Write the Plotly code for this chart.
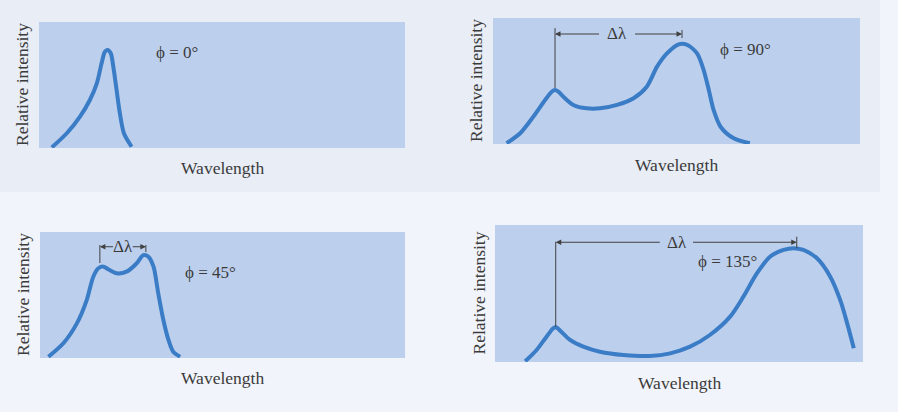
import plotly.graph_objects as go

W, H = 898, 412

# ---- data (arbitrary wavelength units 0-100, relative intensity 0-100) ----
wl_0 = [3.5, 7.6, 11.2, 13.9, 15.8, 17.1, 18.0, 18.7, 19.6, 20.3, 21.2, 22.1, 23.2, 25.3]
int_0 = [0.5, 11.7, 24.9, 38.1, 51.3, 67.2, 76.4, 77.8, 75.2, 64.6, 46.0, 27.5, 11.7, 1.0]

wl_90 = [3.7, 7.4, 11.0, 14.2, 16.0, 16.9, 17.8, 19.6, 21.9, 25.5, 29.2, 33.8, 38.3, 41.9,
         44.7, 47.4, 50.6, 52.9, 55.6, 57.4, 58.8, 60.1, 62.0, 65.6, 70.0]
int_90 = [0.6, 8.5, 21.7, 34.9, 41.5, 42.9, 41.5, 36.3, 31.0, 28.3, 28.3, 31.0, 36.3, 45.5,
          61.4, 71.9, 79.1, 78.6, 71.9, 58.7, 42.9, 27.0, 13.7, 4.5, 0.6]

wl_45 = [2.3, 6.4, 10.1, 12.8, 14.6, 16.0, 17.4, 18.7, 21.0, 23.7, 26.5, 28.3, 29.7, 31.1,
         32.4, 33.8, 35.2, 36.5, 38.4]
int_45 = [1.0, 11.7, 27.5, 46.0, 64.5, 71.2, 72.5, 70.4, 67.2, 68.5, 75.2, 81.7, 80.4, 72.5,
          51.3, 30.2, 14.3, 5.0, 1.0]

wl_135 = [8.2, 11.3, 14.0, 15.8, 16.6, 17.7, 20.4, 24.0, 28.5, 34.9, 42.1, 47.6, 53.0, 58.4,
          63.9, 67.5, 71.2, 74.8, 78.4, 81.1, 83.8, 87.5, 91.1, 93.8, 95.7, 97.5]
int_135 = [0.5, 8.8, 18.5, 24.6, 25.3, 22.9, 16.1, 11.2, 7.5, 5.1, 4.4, 6.3, 11.2, 19.7,
           33.1, 47.7, 64.8, 77.0, 81.8, 83.1, 81.8, 75.7, 62.3, 45.3, 28.2, 10.0]

angles = ["ϕ = 0°", "ϕ = 90°", "ϕ = 45°", "ϕ = 135°"]
# unshifted / shifted peak wavelengths used for the Δλ markers
peak_unshifted = [None, 16.9, 16.4, 16.5]
peak_shifted = [None, 51.5, 29.0, 82.0]

x_label = "Wavelength"
y_label = "Relative intensity"

# ---- layout geometry (pixels) ----
boxes = [  # x0, x1, y0(top), y1(bottom)
    (39, 405, 22, 148),
    (493, 860, 18, 144),
    (40, 405, 232, 358),
    (495, 863, 225, 362),
]
xlabel_y = [168, 165, 378, 383]

series = [(wl_0, int_0), (wl_90, int_90), (wl_45, int_45), (wl_135, int_135)]

CURVE = "#3a7cc6"
PLOTBG = "#bccfed"
TXT = "#3b3b3b"
FONT = "Liberation Serif, DejaVu Serif, serif"

fig = go.Figure()
layout = dict(
    width=W, height=H, margin=dict(l=0, r=0, t=0, b=0),
    paper_bgcolor="#f1f4fa", plot_bgcolor=PLOTBG, showlegend=False,
    font=dict(family=FONT, color=TXT),
)
annotations = []
shapes = [
    dict(type="rect", xref="paper", yref="paper", x0=0, x1=880 / W, y0=1 - 192 / H, y1=1,
         fillcolor="#e8edf6", line=dict(width=0), layer="below"),
]

for i, ((x0, x1, y0, y1), (xs, ys)) in enumerate(zip(boxes, series)):
    n = "" if i == 0 else str(i + 1)
    xa, ya = "x" + n, "y" + n
    dx = [x0 / W, x1 / W]
    dy = [1 - y1 / H, 1 - y0 / H]
    ax_common = dict(showgrid=False, zeroline=False, showticklabels=False, ticks="",
                     showline=False, fixedrange=True)
    layout["xaxis" + n] = dict(domain=dx, range=[0, 100], anchor=ya, **ax_common)
    layout["yaxis" + n] = dict(domain=dy, range=[0, 100], anchor=xa, **ax_common)
    shapes.append(dict(type="rect", xref=xa + " domain", yref=ya + " domain", x0=0, x1=1, y0=0, y1=1,
                       fillcolor=PLOTBG, line=dict(width=0), layer="below"))
    fig.add_trace(go.Scatter(x=xs, y=ys, xaxis=xa, yaxis=ya, mode="lines",
                             line=dict(color=CURVE, width=4, shape="spline", smoothing=0.8),
                             hoverinfo="skip"))
    cx = (x0 + x1) / 2 / W
    annotations.append(dict(text=x_label, xref="paper", yref="paper", x=cx,
                            y=1 - xlabel_y[i] / H, xanchor="center", yanchor="middle",
                            showarrow=False, font=dict(size=17.5, family=FONT, color=TXT)))
    annotations.append(dict(text=y_label, xref="paper", yref="paper", x=(x0 - 17) / W,
                            y=1 - (y0 + y1) / 2 / H, xanchor="center", yanchor="middle",
                            textangle=-90, showarrow=False,
                            font=dict(size=17.5, family=FONT, color=TXT)))

# angle labels
angle_pos = [(37.8, 75.4), (68.7, 74.6), (46.8, 67.5), (63.3, 73.0)]
for i, (lab, (px, py)) in enumerate(zip(angles, angle_pos)):
    n = "" if i == 0 else str(i + 1)
    annotations.append(dict(text=lab, x=px, y=py, xref="x" + n, yref="y" + n, showarrow=False,
                            font=dict(size=17, family=FONT, color=TXT)))

# Δλ markers
marks = {
    1: (44.4, 92.0, 84.1, 90.5, 87.3, 33.8, 29.3, 38.3),
    2: (75.4, 89.7, 84.1, 89.7, 88.3, 22.7, 20.4, 25.0),
    3: (25.8, 87.8, 83.0, 91.5, 87.4, 49.4, 45.2, 53.4),
}
for i, (lb, lt, rb, rt, ay, lx, tl, tr) in marks.items():
    n = str(i + 1)
    xa, ya = "x" + n, "y" + n
    xl, xr = peak_unshifted[i], peak_shifted[i]
    shapes.append(dict(type="line", xref=xa, yref=ya, x0=xl, x1=xl, y0=lb, y1=lt,
                       line=dict(color="#404040", width=1)))
    shapes.append(dict(type="line", xref=xa, yref=ya, x0=xr, x1=xr, y0=rb, y1=rt,
                       line=dict(color="#404040", width=1)))
    for head, tail in ((xl, tl), (xr, tr)):
        annotations.append(dict(x=head, y=ay, ax=tail, ay=ay, xref=xa, yref=ya, axref=xa, ayref=ya,
                                text="", showarrow=True, arrowhead=2, arrowsize=1.1, arrowwidth=1,
                                arrowcolor="#404040", standoff=0, startstandoff=0))
    annotations.append(dict(text="Δλ", x=lx, y=ay, xref=xa, yref=ya, showarrow=False,
                            font=dict(size=17, family=FONT, color=TXT)))

layout["annotations"] = annotations
layout["shapes"] = shapes
fig.update_layout(**layout)
fig.write_html("out.html")
